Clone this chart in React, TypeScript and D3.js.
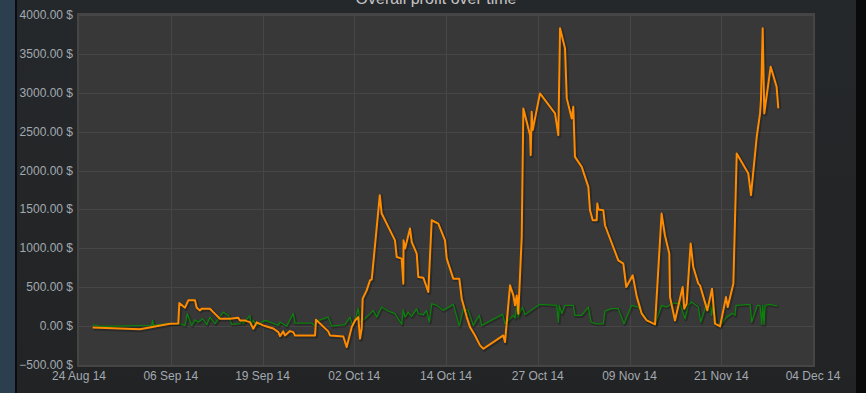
import React from "react";
import * as d3 from "d3";

// days since 24 Aug 2014, profit in $
const profitDays = [1.90,8.48,12.65,13.80,13.94,14.73,15.19,16.12,16.36,16.81,17.05,18.20,18.66,19.59,20.98,22.14,22.37,23.07,23.30,23.76,24.22,24.69,25.61,26.08,27.00,27.70,27.93,28.39,28.62,29.32,29.78,30.02,32.80,32.94,34.64,34.88,36.73,37.20,37.90,38.36,38.81,39.05,39.28,39.42,39.98,40.44,40.68,41.80,42.06,43.91,44.15,44.84,45.07,45.10,45.31,46.00,46.24,46.93,47.15,47.85,48.54,49.01,49.93,50.86,51.10,52.01,52.85,53.18,53.88,54.34,55.03,55.73,56.19,58.97,59.20,59.90,60.36,60.59,60.83,61.05,61.52,61.75,62.68,62.77,62.91,63.05,64.06,66.15,66.61,66.85,67.54,67.78,68.47,68.69,68.92,69.86,70.78,71.01,71.39,71.94,72.03,72.17,72.86,73.09,74.94,75.64,76.05,76.95,77.50,78.20,78.89,80.05,80.96,81.42,82.03,82.13,82.82,83.89,84.11,84.44,85.00,85.36,86.06,86.30,87.31,87.97,88.38,89.08,89.91,90.15,90.93,91.16,91.40,93.01,93.38,94.18,94.64,94.77,95.01,95.23,96.12,96.94,97.18];
const profitValues = [-17,-39,31,35,296,237,331,331,237,202,224,224,180,95,95,108,73,73,64,51,-33,48,9,-4,-30,-77,-129,-68,-120,-64,-77,-120,-120,82,-68,-120,-133,-270,-13,73,116,-162,-33,353,460,588,601,1683,1447,1103,888,868,546,1103,997,1254,1081,932,631,623,438,1361,1318,1103,868,610,610,353,116,-13,-120,-248,-291,-120,-206,524,395,267,395,160,1146,2799,2455,2198,2755,2520,2992,2735,2455,3829,3571,2928,2670,2820,2176,2047,1790,1490,1361,1361,1576,1499,1490,1297,846,803,502,653,382,160,73,22,1447,1168,932,373,73,502,224,288,1061,760,546,524,202,481,31,-4,373,245,546,1361,2220,1962,1683,2434,2735,2906,3829,2735,3335,3077,2799];

const dailyDays = [1.90,2.92,10.10,10.24,10.35,12.41,13.80,14.73,15.05,15.66,16.12,16.58,17.19,17.75,18.20,18.90,20.05,20.75,21.22,22.37,22.60,22.83,23.76,23.86,24.22,24.69,25.15,25.85,26.54,27.70,27.93,28.86,29.78,30.02,32.34,32.80,33.03,34.64,35.12,36.97,37.66,38.04,38.36,38.81,39.05,39.42,39.98,40.90,41.37,42.06,42.98,43.91,44.84,45.06,45.30,45.76,46.23,46.93,47.15,47.85,48.31,48.68,49.01,49.71,50.63,52.01,52.85,53.40,54.10,54.79,55.63,55.96,58.87,59.20,60.36,60.59,60.83,61.05,61.28,61.60,61.98,64.06,66.38,66.61,66.75,67.08,67.54,68.69,68.92,69.86,70.78,71.15,71.94,72.86,73.09,74.02,74.94,75.73,76.80,77.73,78.89,80.05,80.98,81.67,82.59,83.52,84.21,84.67,85.14,86.06,86.39,87.22,87.77,87.91,88.14,88.52,89.08,90.00,90.83,91.16,91.30,93.25,93.48,94.26,94.64,94.87,95.01,95.19,95.33,96.02,97.04];
const dailyValues = [18,-4,9,73,9,31,31,9,160,9,82,51,95,18,116,31,180,138,22,31,73,31,138,9,73,9,35,73,52,9,52,0,160,39,39,0,65,116,0,18,116,0,73,232,52,73,116,202,116,245,193,160,22,211,116,180,125,224,160,146,202,52,288,267,202,280,0,224,202,9,138,9,150,30,138,103,267,116,180,245,150,280,267,52,267,160,267,267,138,138,245,52,30,30,193,224,224,30,267,245,73,30,267,245,296,288,95,267,310,245,52,288,254,138,267,22,9,116,167,138,267,280,52,267,267,22,267,22,267,280,258];

const xTickLabels = ["24 Aug 14","06 Sep 14","19 Sep 14","02 Oct 14","14 Oct 14","27 Oct 14","09 Nov 14","21 Nov 14","04 Dec 14"];
const yTicks = [-500,0,500,1000,1500,2000,2500,3000,3500,4000];
const title = "Overall profit over time";

const W = 866, H = 393;
const plot = { left: 79, right: 813, top: 15, bottom: 365 };

export default function App() {
  const x = d3.scaleLinear().domain([0, 102]).range([plot.left, plot.right]);
  const y = d3.scaleLinear().domain([-500, 4000]).range([plot.bottom, plot.top]);
  const tickDays = xTickLabels.map((_, i) => (102 * i) / (xTickLabels.length - 1));
  const line = d3.line<[number, number]>().x(d => x(d[0])).y(d => y(d[1]));
  const profit = line(profitDays.map((d, i) => [d, profitValues[i]] as [number, number])) || "";
  const daily = line(dailyDays.map((d, i) => [d, dailyValues[i]] as [number, number])) || "";
  const fmt = (v: number) => d3.format(".2f")(v) + " $";
  const font = "'Liberation Sans', Arial, sans-serif";
  return (
    <svg width={W} height={H} style={{ position: "absolute", left: 0, top: 0 }}>
      <defs>
        <linearGradient id="bg" x1="0" x2="0" y1="0" y2="1">
          <stop offset="0" stopColor="#25282b" />
          <stop offset="1" stopColor="#222324" />
        </linearGradient>
        <clipPath id="clip">
          <rect x={plot.left} y={plot.top} width={plot.right - plot.left} height={plot.bottom - plot.top} />
        </clipPath>
      </defs>
      <rect x={0} y={0} width={W} height={H} fill="#2b3f4f" />
      <rect x={15} y={0} width={2} height={H} fill="#0c0c0c" />
      <rect x={17} y={0} width={839} height={H} fill="url(#bg)" />
      <rect x={856} y={0} width={10} height={H} fill="#0a0a0a" />
      <rect x={plot.left - 1} y={plot.top - 1} width={plot.right - plot.left + 2} height={plot.bottom - plot.top + 2} fill="#383838" stroke="#454545" strokeWidth={2} />
      {yTicks.map(t => (
        <line key={"gy" + t} x1={plot.left} x2={plot.right} y1={Math.round(y(t)) + 0.5} y2={Math.round(y(t)) + 0.5} stroke="#464646" strokeWidth={1} />
      ))}
      {tickDays.slice(1, -1).map(t => (
        <line key={"gx" + t} x1={Math.round(x(t)) + 0.5} x2={Math.round(x(t)) + 0.5} y1={plot.top} y2={plot.bottom} stroke="#464646" strokeWidth={1} />
      ))}
      <g clipPath="url(#clip)">
        <path d={daily} fill="none" stroke="#000" strokeOpacity={0.25} strokeWidth={3} transform="translate(1,1)" strokeLinejoin="round" />
        <path d={daily} fill="none" stroke="#0d800d" strokeWidth={1.3} strokeLinejoin="round" />
        <path d={profit} fill="none" stroke="#000" strokeOpacity={0.25} strokeWidth={4} transform="translate(1,1)" strokeLinejoin="round" />
        <path d={profit} fill="none" stroke="#ff8c00" strokeWidth={2} strokeLinejoin="round" />
      </g>
      {yTicks.map(t => (
        <text key={"ty" + t} x={73} y={y(t) + 4} textAnchor="end" fontFamily={font} fontSize={12} fill="#a2a9b0">{fmt(t)}</text>
      ))}
      {tickDays.map((t, i) => (
        <text key={"tx" + i} x={x(t)} y={380} textAnchor="middle" fontFamily={font} fontSize={12} fill="#a2a9b0">{xTickLabels[i]}</text>
      ))}
      <text x={436} y={4} textAnchor="middle" fontFamily={font} fontSize={16} fill="#c4c4c4">{title}</text>
    </svg>
  );
}
